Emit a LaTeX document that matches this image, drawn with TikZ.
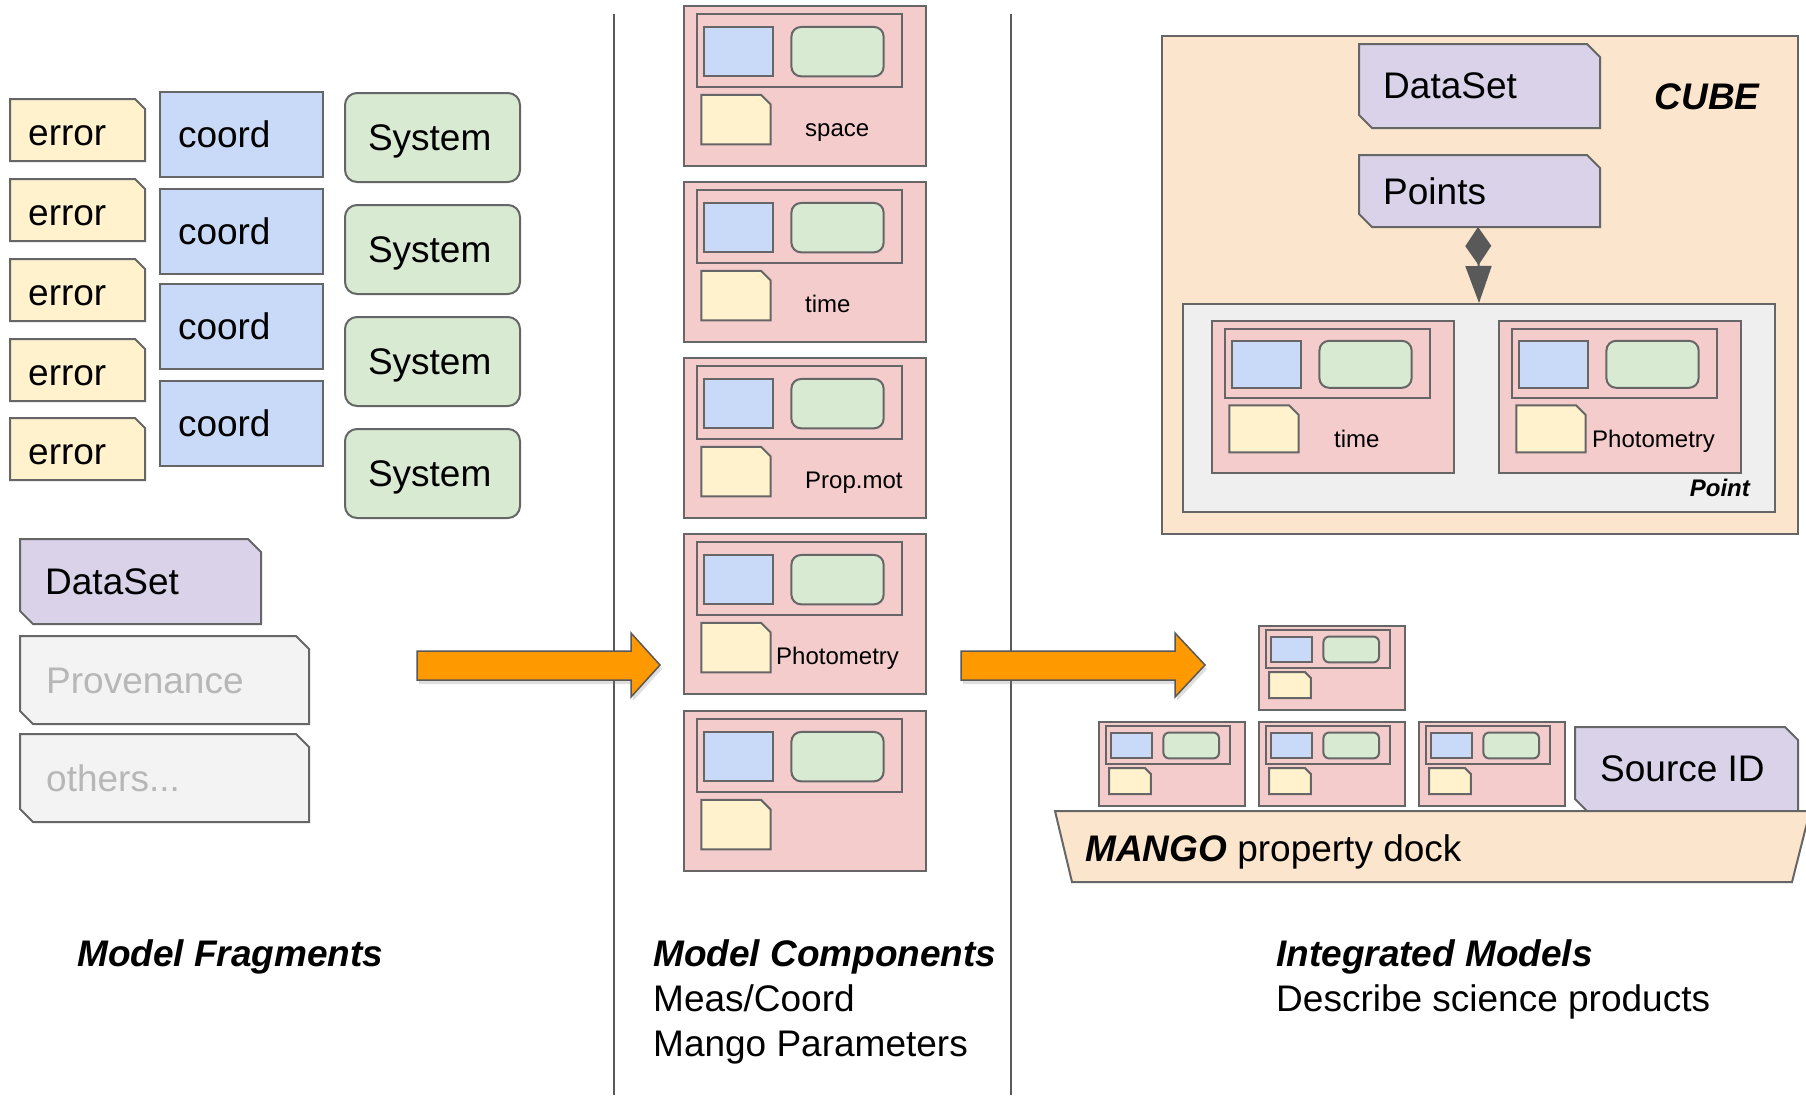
\documentclass[tikz,border=0pt]{standalone}
\usepackage{fontspec}
\setmainfont{Liberation Sans}
\usetikzlibrary{arrows.meta,shadows}

\definecolor{errfill}{HTML}{FFF2CC}
\definecolor{coordfill}{HTML}{C9DAF8}
\definecolor{sysfill}{HTML}{D9EAD3}
\definecolor{dsfill}{HTML}{D9D2E9}
\definecolor{provfill}{HTML}{F3F3F3}
\definecolor{provtext}{HTML}{B7B7B7}
\definecolor{compfill}{HTML}{F4CCCC}
\definecolor{cubefill}{HTML}{FCE5CD}
\definecolor{pointfill}{HTML}{EFEFEF}
\definecolor{flowfill}{HTML}{FF9900}
\definecolor{edgegray}{HTML}{666666}
\definecolor{darkgray}{HTML}{595959}

\tikzset{
  outline/.style={draw=edgegray, line width=2pt, line join=miter},
  errbox/.style={outline, fill=errfill},
  coordbox/.style={outline, fill=coordfill},
  sysbox/.style={outline, fill=sysfill, rounded corners=12pt},
  dsbox/.style={outline, fill=dsfill},
  provbox/.style={outline, fill=provfill},
  compbox/.style={outline, fill=compfill},
  bigtxt/.style={font=\fontsize{37}{44}\selectfont, inner sep=0pt, text height=33.5pt, text depth=7.8pt},
  bigbold/.style={bigtxt, font=\fontsize{37}{44}\selectfont\bfseries\itshape},
  smalltxt/.style={font=\fontsize{24}{29}\selectfont, inner sep=0pt, text height=21.7pt, text depth=5.1pt},
  smallbold/.style={smalltxt, font=\fontsize{24}{29}\selectfont\bfseries\itshape},
  flow/.style={draw=darkgray, line width=1.5pt, fill=flowfill, line join=miter,
    drop shadow={shadow xshift=2pt, shadow yshift=-4pt, opacity=0.25}},
  divider/.style={draw=darkgray, line width=1.5pt},
}

% tag with chamfered top-right and bottom-left corners: x1 y1 x2 y2 chamfer style
\newcommand\tagshape[6]{%
  \draw[#6] (#1,#2) -- ({#3-#5},#2) -- (#3,{#2+#5}) -- (#3,#4) -- ({#1+#5},#4) -- (#1,{#4-#5}) -- cycle;}
% note with one chamfered (top-right) corner: x1 y1 x2 y2 chamfer style
\newcommand\noteshape[6]{%
  \draw[#6] (#1,#2) -- ({#3-#5},#2) -- (#3,{#2+#5}) -- (#3,#4) -- (#1,#4) -- cycle;}
% model component: name x y width height
\newcommand\mcomp[5]{%
  \node[compbox, anchor=north west, minimum width=#4pt, minimum height=#5pt, inner sep=0pt] (#1) at (#2,#3) {};
  \begin{scope}[shift={(#2,#3)}]
    \draw[outline] ({0.057*#4},{0.058*#5}) rectangle ({0.905*#4},{0.51*#5});
    \draw[outline, fill=coordfill] ({0.086*#4},{0.137*#5}) rectangle ({0.371*#4},{0.446*#5});
    \draw[outline, fill=sysfill, rounded corners={0.04*#4pt}] ({0.448*#4},{0.137*#5}) rectangle ({0.829*#4},{0.446*#5});
    \draw[outline, fill=errfill] ({0.076*#4},{0.561*#5}) -- ({0.322*#4},{0.561*#5})
      -- ({0.362*#4},{0.561*#5+0.04*#4}) -- ({0.362*#4},{0.871*#5}) -- ({0.076*#4},{0.871*#5}) -- cycle;
  \end{scope}}

\begin{document}
\begin{tikzpicture}[x=1pt, y=-1pt]
\useasboundingbox (0,0) rectangle (1806,1095);
\fill[white] (0,0) rectangle (1806,1095);

% column dividers
\coordinate (divAtop) at (614,14);
\coordinate (divAbot) at (614,1095);
\coordinate (divBtop) at (1011,14);
\coordinate (divBbot) at (1011,1095);
\draw[divider] (divAtop) -- (divAbot);
\draw[divider] (divBtop) -- (divBbot);

% ---------- model fragments ----------
\foreach \i/\t in {1/99,2/179,3/259,4/339,5/418} {
  \noteshape{10}{\t}{145}{\t+62}{10}{errbox}
  \node[bigtxt, anchor=west] (err\i) at (28,\t+34) {error};
}
\foreach \i/\t in {1/91,2/188,3/283,4/380}
  \node[coordbox, bigtxt, anchor=north west, minimum height=85pt, text width=127pt,
        inner xsep=18pt, align=left] (coord\i) at (159,\t) {coord};
\foreach \i/\t in {1/92,2/204,3/316,4/428}
  \node[sysbox, bigtxt, anchor=north west, minimum height=89pt, text width=129pt,
        inner xsep=23pt, align=left] (sys\i) at (344,\t) {System};

\tagshape{20}{539}{261}{624}{13}{dsbox}
\node[bigtxt, anchor=west] (fragDataSet) at (45,582) {DataSet};
\tagshape{20}{636}{309}{724}{13}{provbox}
\node[bigtxt, anchor=west, text=provtext] (fragProv) at (46,681) {Provenance};
\tagshape{20}{734}{309}{822}{13}{provbox}
\node[bigtxt, anchor=west, text=provtext] (fragOthers) at (46,779) {others...};

% flow arrows
\draw[flow] (417,651) -- (631,651) -- (631,633) -- (660,665) -- (631,697) -- (631,680) -- (417,680) -- cycle;
\draw[flow] (961,651) -- (1175,651) -- (1175,633) -- (1205,665) -- (1175,697) -- (1175,680) -- (961,680) -- cycle;

% ---------- model components ----------
\mcomp{mcSpace}{683}{5}{242}{160}
\mcomp{mcTime}{683}{181}{242}{160}
\mcomp{mcProp}{683}{357}{242}{160}
\mcomp{mcPhot}{683}{533}{242}{160}
\mcomp{mcBlank}{683}{710}{242}{160}
\node[smalltxt, anchor=west] (lblSpace) at (805,128) {space};
\node[smalltxt, anchor=west] (lblTime) at (805,304) {time};
\node[smalltxt, anchor=west] (lblProp) at (805,480) {Prop.mot};
\node[smalltxt, anchor=west] (lblPhot) at (776,656) {Photometry};

% ---------- integrated models: cube ----------
\node[outline, fill=cubefill, anchor=north west, minimum width=636pt, minimum height=498pt, inner sep=0pt] (cube) at (1161,35) {};
\node[bigbold] (cubeTitle) at (1707,97) {CUBE};
\tagshape{1359}{44}{1600}{128}{13}{dsbox}
\node[bigtxt, anchor=west] (cubeDataSet) at (1383,86) {DataSet};
\tagshape{1359}{155}{1600}{227}{13}{dsbox}
\node[bigtxt, anchor=west] (cubePoints) at (1383,192) {Points};
\coordinate (pointsFoot) at (1478,227);

\node[outline, fill=pointfill, anchor=north west, minimum width=592pt, minimum height=208pt, inner sep=0pt] (pointbox) at (1182,303) {};
\mcomp{cubeTime}{1211}{320}{242}{152}
\mcomp{cubePhot}{1498}{320}{242}{152}
\node[smalltxt, anchor=west] (lblCubeTime) at (1334,439) {time};
\node[smalltxt, anchor=west] (lblCubePhot) at (1592,439) {Photometry};
\node[smallbold, anchor=east] (pointTitle) at (1750,488) {Point};
\draw[draw=darkgray, line width=2pt,
      {Diamond[length=38pt,width=26pt]}-{Triangle[length=37pt,width=26pt]}]
  (pointsFoot) -- (pointbox.north);

% ---------- integrated models: property dock ----------
\mcomp{dockTop}{1258}{625}{146}{84}
\mcomp{dockA}{1098}{721}{146}{84}
\mcomp{dockB}{1258}{721}{146}{84}
\mcomp{dockC}{1418}{721}{146}{84}
\tagshape{1575}{727}{1798}{812}{13}{dsbox}
\node[bigtxt, anchor=west] (sourceId) at (1600,769) {Source ID};
\draw[outline, fill=cubefill] (1055,811) -- (1810,811) -- (1792,882) -- (1072,882) -- cycle;
\node[bigtxt, anchor=west] (dockLabel) at (1085,849) {\textbf{\textit{MANGO}} property dock};

% ---------- column captions ----------
\node[bigbold, anchor=west] (capFrag) at (77,954) {Model Fragments};
\node[bigbold, anchor=west] (capComp) at (653,954) {Model Components};
\node[bigtxt, anchor=west] (capCompA) at (653,999) {Meas/Coord};
\node[bigtxt, anchor=west] (capCompB) at (653,1044) {Mango Parameters};
\node[bigbold, anchor=west] (capInt) at (1276,954) {Integrated Models};
\node[bigtxt, anchor=west] (capIntA) at (1276,999) {Describe science products};
\end{tikzpicture}
\end{document}
